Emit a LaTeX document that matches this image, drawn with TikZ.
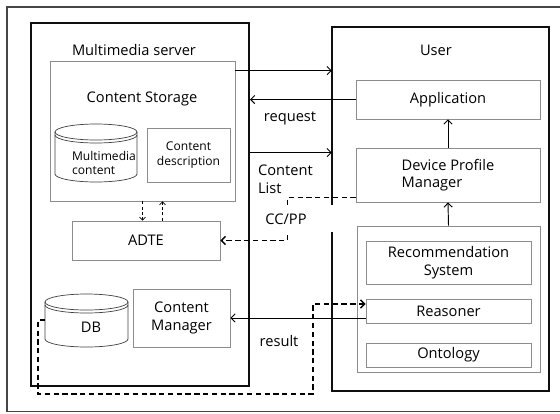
\documentclass[tikz,border=0pt]{standalone}
\usepackage{fontspec}
\setmainfont{Open Sans}
\usepackage{xcolor}
\usepackage{tikz}
\usetikzlibrary{arrows.meta, positioning, calc}
\definecolor{boxgray}{RGB}{140,140,140}
\definecolor{frame}{RGB}{15,15,15}
\definecolor{outerline}{RGB}{70,70,70}

\begin{document}
\begin{tikzpicture}[x=0.03cm, y=-0.03cm, font=\fontsize{12.5}{15}\selectfont,
  big/.style={draw=frame, line width=1.7pt},
  gbox/.style 2 args={draw=boxgray, line width=0.7pt, minimum width=#1,
    minimum height=#2, inner sep=1pt, align=center},
  small/.style={font=\fontsize{10.3}{12.6}\selectfont},
  cyl/.style={draw=black!75, line width=0.6pt},
  arr/.style={line width=0.8pt, -{Straight Barb[length=3.5pt,width=7pt]}},
  dsharr/.style={line width=1.2pt, dash pattern=on 4.5pt off 3pt,
    -{Straight Barb[length=3.5pt,width=7pt]}},
  thdsh/.style={line width=0.6pt, dash pattern=on 2.5pt off 2pt,
    -{Straight Barb[length=2.5pt,width=5pt]}}]
  \useasboundingbox (0,0) rectangle (560,413);
  \draw[outerline, line width=1pt] (560,7) -- (7,7) -- (7,411.5) -- (560,411.5);

  % multimedia server
  \node[big, minimum width=6.54cm, minimum height=10.89cm] (server) at (140,204.5) {};
  \node (srvlab) at (134,50) {Multimedia server};
  \node[gbox={5.55cm}{4.2cm}] (storage) at (142.5,131) {};
  \node (stolab) at (142,99) {Content Storage};
  \draw[cyl] (55,132) -- (55,174) arc[start angle=180, end angle=360, x radius=1.23cm, y radius=0.24cm] -- (137,132);
  \draw[cyl] (96,132) ellipse [x radius=1.23cm, y radius=0.24cm];
  \draw[cyl] (55,135) arc[start angle=180, end angle=360, x radius=1.23cm, y radius=0.24cm];
  \node[small, align=left] (mmc) at (104,163) {Multimedia\\content};
  \node[gbox={2.49cm}{1.62cm}, small] (desc) at (188.5,155) {Content\\description};
  \node[gbox={4.44cm}{1.17cm}] (adte) at (146,240.5) {ADTE};
  \draw[cyl] (45,302) -- (45,339) arc[start angle=180, end angle=360, x radius=1.245cm, y radius=0.24cm] -- (128,302);
  \draw[cyl] (86.5,302) ellipse [x radius=1.245cm, y radius=0.24cm];
  \draw[cyl] (45,305) arc[start angle=180, end angle=360, x radius=1.245cm, y radius=0.24cm];
  \node (db) at (91,327) {DB};
  \coordinate (dbw) at (45,320);
  \node[gbox={2.91cm}{1.74cm}] (cm) at (181.5,318) {Content\\Manager};

  % user side
  \node[minimum width=6.51cm, minimum height=10.92cm] (user) at (440.5,209) {};
  \draw[big] ($(user.south west)+(0,-159)$) -- (user.south west) -- (user.south east)
    -- (user.north east) -- (user.north west) -- ($(user.north west)+(0,178)$);
  \node (userlab) at (436,50) {User};
  \node[gbox={5.52cm}{1.17cm}] (app) at (448,99.5) {Application};
  \node[gbox={5.52cm}{1.62cm}, align=left] (dpm) at (448,175) {Device Profile\\Manager};
  \node[gbox={5.49cm}{4.38cm}] (grp) at (448.5,299) {};
  \node[gbox={4.95cm}{1.29cm}] (rec) at (448.5,262.5) {Recommendation\\System};
  \node[gbox={4.95cm}{0.72cm}] (reas) at (448.5,311) {Reasoner};
  \node[gbox={4.95cm}{0.72cm}] (onto) at (448.5,355) {Ontology};

  % connectors
  \draw[arr] (dpm.north) -- (app.south);
  \draw[arr] (grp.north) -- (dpm.south);
  \draw[thdsh] (storage.south) -- (storage.south |- adte.north);
  \coordinate (upx) at ($(storage.south)+(20,0)$);
  \draw[thdsh] (upx |- adte.north) -- (upx);
  \coordinate (t1) at ($(storage.north east)+(0,10)$);
  \draw[arr] (t1) -- (t1 -| user.west);
  \draw[arr] (app.west) -- (app.west -| server.east);
  \node (reqlab) at (290,118) {request};
  \coordinate (t2) at ($(dpm.north west)+(0,5)$);
  \draw[arr] (t2 -| server.east) -- (t2 -| user.west);
  \node[align=left, anchor=west] (cllab) at (254,179.5) {Content\\List};
  \draw[dsharr] ($(dpm.south west)+(0,-5)$) -- ++(-68,0) |- (adte.east);
  \node[fill=white, inner sep=1pt, minimum height=0.8cm] (cclab) at (286,219) {CC/PP};
  \draw[arr] ($(reas.west)+(0,7)$) -- (cm.east);
  \node (reslab) at (279,341) {result};
  \draw[dsharr] (dbw) -- ++(-7,0) |- ++(275,74) |- ($(reas.west)+(0,-7)$);
\end{tikzpicture}
\end{document}
